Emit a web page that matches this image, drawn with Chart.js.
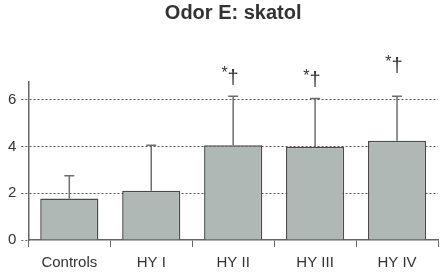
<!DOCTYPE html>
<html>
<head>
<meta charset="utf-8">
<script src="https://cdn.jsdelivr.net/npm/chart.js@4"></script>
<style>
html,body{margin:0;padding:0;background:#fff;}
#wrap{width:444px;height:272px;}
</style>
</head>
<body>
<div id="wrap"><canvas id="chart"></canvas></div>
<script>
const categories=['Controls','HY I','HY II','HY III','HY IV'];
const means=[1.77,2.1,4.05,3.98,4.24];
const errUp=[0.97,1.95,2.09,2.06,1.9];
const marks=['','','*†','*†','*†'];
const markLevels=[null,null,6.62,6.5,7.12];
const yTicks=[0,2,4,6];

// error bars + significance marks
const extrasPlugin={
id:'extras',
afterDatasetsDraw(chart){
const ctx=chart.ctx;
const meta=chart.getDatasetMeta(0);
const y=chart.scales.y;
ctx.save();
ctx.strokeStyle='#6e6e6e';
ctx.lineWidth=1.5;
meta.data.forEach((bar,i)=>{
const x=bar.x;
const top=y.getPixelForValue(means[i]+errUp[i]);
ctx.beginPath();
ctx.moveTo(x,bar.y);
ctx.lineTo(x,top);
ctx.moveTo(x-5,top);
ctx.lineTo(x+5,top);
ctx.stroke();
if(marks[i]){
const yy=y.getPixelForValue(markLevels[i]);
ctx.fillStyle='#333';
ctx.textBaseline='bottom';
ctx.textAlign='left';
ctx.font='20px "Liberation Sans", Arial, sans-serif';
const dw=ctx.measureText('†').width;
ctx.fillText('†',x-dw/2,yy+3);
ctx.font='16px "Liberation Sans", Arial, sans-serif';
const sw=ctx.measureText('*').width;
ctx.fillText('*',x-dw/2-sw,yy-3);
}
});
ctx.restore();
}
};

new Chart(document.getElementById('chart'),{
type:'bar',
data:{
labels:categories,
datasets:[{
data:means,
backgroundColor:'#b0b8b5',
borderColor:'#4a4a4a',
borderWidth:1.5,
barPercentage:0.71,
categoryPercentage:1
}]
},
options:{
responsive:true,
maintainAspectRatio:false,
animation:false,
layout:{padding:{left:3,right:6,top:0,bottom:-6}},
plugins:{
legend:{display:false},
tooltip:{enabled:false},
title:{
display:true,
fullSize:false,
text:'Odor E: skatol',
color:'#333',
font:{family:'"Liberation Sans", Arial, sans-serif',size:20,weight:'bold'},
padding:{top:1,bottom:57}
}
},
scales:{
x:{
grid:{display:true,offset:true,drawOnChartArea:false,drawTicks:true,tickLength:7,color:'#666',lineWidth:1},
border:{display:true,color:'#666',width:1.5},
ticks:{color:'#333',padding:8,font:{family:'"Liberation Sans", Arial, sans-serif',size:15,lineHeight:1}}
},
y:{
min:0,
max:6.75,
afterBuildTicks(scale){scale.ticks=yTicks.map(v=>({value:v}));},
grid:{
color:(c)=>c.tick&&c.tick.value===0?'rgba(0,0,0,0)':'#555',
lineWidth:1,
tickLength:7,
tickColor:(c)=>c.tick&&c.tick.value===0?'#666':'#555',
tickBorderDash:[2,2]
},
border:{display:true,color:'#666',width:1.5,dash:[2,2]},
ticks:{color:'#333',padding:5,font:{family:'"Liberation Sans", Arial, sans-serif',size:15}}
}
}
},
plugins:[extrasPlugin]
});
</script>
</body>
</html>
